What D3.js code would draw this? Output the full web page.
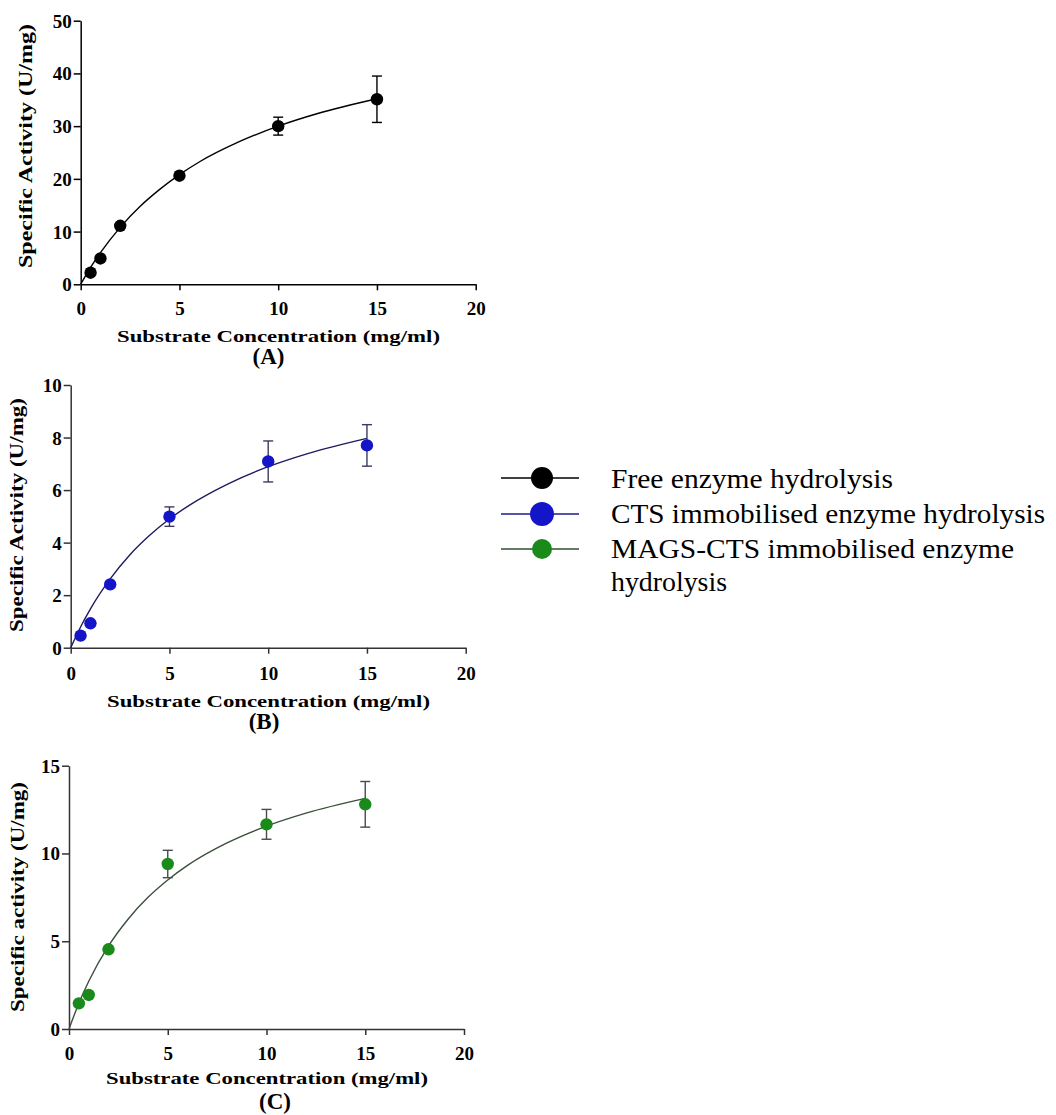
<!DOCTYPE html>
<html>
<head>
<meta charset="utf-8">
<script src="https://cdn.jsdelivr.net/npm/d3@7"></script>
<style>
  body { margin: 0; background: #fff; }
  svg { display: block; }
</style>
</head>
<body>
<div id="chart"></div>
<script>
// substrate concentrations (mg/ml)
var concentrations = [0.5, 1, 2, 5, 10, 15];

// measured specific activity (U/mg) and error bars
var freeActivity = [2.2, 4.9, 11.1, 20.6, 30.0, 35.1];
var freeError    = [0, 0, 0, 0, 1.7, 4.4];
var ctsActivity  = [0.46, 0.93, 2.41, 4.99, 7.09, 7.70];
var ctsError     = [0, 0, 0, 0.37, 0.78, 0.79];
var magsActivity = [1.46, 1.94, 4.54, 9.40, 11.66, 12.80];
var magsError    = [0, 0, 0, 0.78, 0.85, 1.3];

// fitted curves
var fitConcentrations = [0, 0.5, 1, 2, 3, 4, 5, 6, 8, 10, 12, 15];
var freeFit = [0, 3.2, 6.0, 10.8, 14.75, 18.0, 20.8, 23.2, 27.0, 30.0, 32.4, 35.2];
var ctsFit  = [0, 0.79, 1.48, 2.62, 3.54, 4.28, 4.90, 5.42, 6.25, 6.89, 7.39, 7.97];
var magsFit = [0, 1.47, 2.72, 4.73, 6.27, 7.50, 8.49, 9.32, 10.60, 11.56, 12.30, 13.14];

// ticks and labels
var xTicks = [0, 5, 10, 15, 20];
var freeYTicks = [0, 10, 20, 30, 40, 50];
var ctsYTicks = [0, 2, 4, 6, 8, 10];
var magsYTicks = [0, 5, 10, 15];
var xTitle = "Substrate Concentration (mg/ml)";
var yTitles = ["Specific Activity (U/mg)", "Specific Activity (U/mg)", "Specific activity (U/mg)"];
var panelLetters = ["(A)", "(B)", "(C)"];
var legendLabels = ["Free enzyme hydrolysis", "CTS immobilised enzyme hydrolysis", "MAGS-CTS immobilised enzyme", "hydrolysis"];

var serif = "'Liberation Serif', 'Times New Roman', serif";
var W = 1056, H = 1115;
var svg = d3.select("#chart").append("svg").attr("width", W).attr("height", H);
svg.append("rect").attr("width", W).attr("height", H).attr("fill", "#fff");

var panels = [
  {left: 80.7, right: 475.7, top: 20.7, bottom: 284.3, yMax: 50, yTicks: freeYTicks,
   vals: freeActivity, err: freeError, fit: freeFit,
   dot: "#000", line: "#000", errColor: "#000", axis: "#000",
   tickBase: 315, titleX: 278.5, titleBase: 342, titleLen: 323, letterX: 268.5, letterBase: 364,
   yTitleX: 32, yTitleY: 146, yTitleLen: 244},
  {left: 70.7, right: 465.7, top: 385, bottom: 647.7, yMax: 10, yTicks: ctsYTicks,
   vals: ctsActivity, err: ctsError, fit: ctsFit,
   dot: "#1414c8", line: "#1c1c5e", errColor: "#3a3a60", axis: "#333",
   tickBase: 680, titleX: 268.5, titleBase: 707, titleLen: 323, letterX: 264, letterBase: 729,
   yTitleX: 23, yTitleY: 515, yTitleLen: 234},
  {left: 69, right: 464, top: 765.7, bottom: 1029, yMax: 15, yTicks: magsYTicks,
   vals: magsActivity, err: magsError, fit: magsFit,
   dot: "#1a8a1a", line: "#3b4f3b", errColor: "#4a4a4a", axis: "#333",
   tickBase: 1060, titleX: 267, titleBase: 1084, titleLen: 322, letterX: 275, letterBase: 1109,
   yTitleX: 24, yTitleY: 897, yTitleLen: 230}
];

panels.forEach(function(p, i) {
  var x = d3.scaleLinear().domain([0, 20]).range([p.left, p.right]);
  var y = d3.scaleLinear().domain([0, p.yMax]).range([p.bottom, p.top]);
  var g = svg.append("g");

  // axes
  var xAxis = d3.axisBottom(x).tickValues(xTicks).tickSize(6).tickSizeOuter(0).tickFormat(d3.format("d"));
  var yAxis = d3.axisLeft(y).tickValues(p.yTicks).tickSize(7).tickSizeOuter(0).tickFormat(d3.format("d"));
  var gx = g.append("g").attr("transform", "translate(0," + p.bottom + ")").call(xAxis);
  var gy = g.append("g").attr("transform", "translate(" + p.left + ",0)").call(yAxis);
  [gx, gy].forEach(function(a) {
    a.select(".domain").attr("stroke", p.axis).attr("stroke-width", 1.5);
    a.selectAll(".tick line").attr("stroke", p.axis).attr("stroke-width", 1.5);
    a.selectAll(".tick text").attr("fill", "#000").attr("font-size", 19)
      .style("font-family", serif).style("font-weight", "bold");
  });
  gx.selectAll(".tick text").attr("y", null).attr("dy", null)
    .attr("transform", "translate(0," + (p.tickBase - p.bottom) + ")");
  gy.selectAll(".tick text").attr("x", -9).attr("dy", "0.34em");

  // fitted curve
  var line = d3.line()
    .x(function(d, k) { return x(fitConcentrations[k]); })
    .y(function(d) { return y(d); })
    .curve(d3.curveMonotoneX);
  g.append("path").attr("d", line(p.fit)).attr("fill", "none")
    .attr("stroke", p.line).attr("stroke-width", 1.4);

  // error bars
  concentrations.forEach(function(c, k) {
    if (!p.err[k]) return;
    var cx = x(c), y1 = y(p.vals[k] + p.err[k]), y2 = y(p.vals[k] - p.err[k]);
    g.append("line").attr("x1", cx).attr("x2", cx).attr("y1", y1).attr("y2", y2)
      .attr("stroke", p.errColor).attr("stroke-width", 1.4);
    [y1, y2].forEach(function(yy) {
      g.append("line").attr("x1", cx - 5).attr("x2", cx + 5).attr("y1", yy).attr("y2", yy)
        .attr("stroke", p.errColor).attr("stroke-width", 1.4);
    });
  });

  // points
  g.selectAll("circle").data(p.vals).enter().append("circle")
    .attr("cx", function(d, k) { return x(concentrations[k]); })
    .attr("cy", function(d) { return y(d); })
    .attr("r", 6.2).attr("fill", p.dot);

  // titles
  g.append("text").attr("x", p.titleX).attr("y", p.titleBase).attr("text-anchor", "middle")
    .attr("font-size", 17).style("font-family", serif).style("font-weight", "bold")
    .attr("textLength", p.titleLen).attr("lengthAdjust", "spacingAndGlyphs").text(xTitle);
  g.append("text").attr("x", p.letterX).attr("y", p.letterBase).attr("text-anchor", "middle")
    .attr("font-size", 23).style("font-family", serif).style("font-weight", "bold").text(panelLetters[i]);
  g.append("text").attr("transform", "translate(" + p.yTitleX + "," + p.yTitleY + ") rotate(-90)")
    .attr("text-anchor", "middle").attr("font-size", 19).style("font-family", serif).style("font-weight", "bold")
    .attr("textLength", p.yTitleLen).attr("lengthAdjust", "spacingAndGlyphs").text(yTitles[i]);
});

// legend
var legendColors = ["#000", "#1414c8", "#1a8a1a"];
var legendLines = ["#000", "#1c1c8e", "#2f4f2f"];
var legendRadius = [11, 12, 10];
var legendY = [478, 514, 549];
var legendTextLen = [282, 434, 403, 116];
legendColors.forEach(function(c, k) {
  svg.append("line").attr("x1", 501).attr("x2", 579).attr("y1", legendY[k]).attr("y2", legendY[k])
    .attr("stroke", legendLines[k]).attr("stroke-width", 1.3);
  svg.append("circle").attr("cx", 542).attr("cy", legendY[k]).attr("r", legendRadius[k]).attr("fill", c);
});
var legendBase = [488, 523, 558, 591];
legendLabels.forEach(function(t, k) {
  svg.append("text").attr("x", 611).attr("y", legendBase[k]).attr("font-size", 27)
    .style("font-family", serif)
    .attr("textLength", legendTextLen[k]).attr("lengthAdjust", "spacingAndGlyphs").text(t);
});
</script>
</body>
</html>
